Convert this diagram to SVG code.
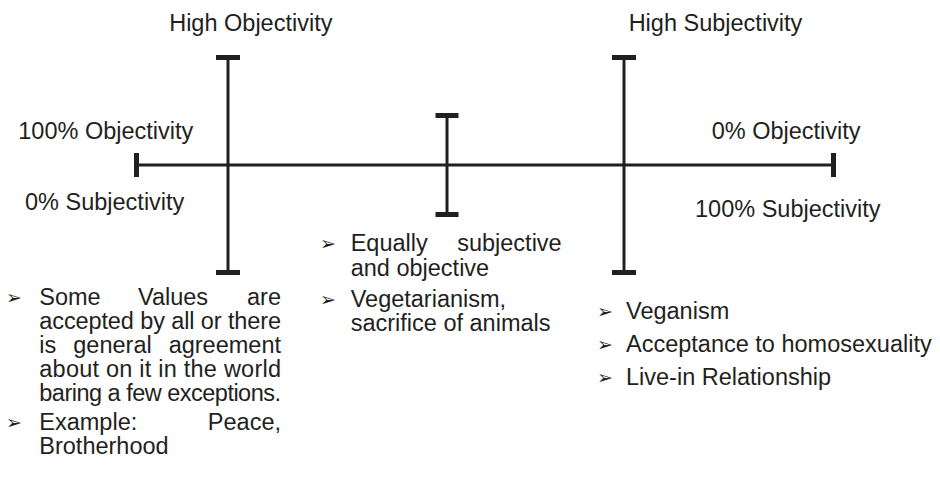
<svg xmlns="http://www.w3.org/2000/svg" width="940" height="493" viewBox="0 0 940 493">
<style>
.t{font-family:"Liberation Sans",Arial,Helvetica,sans-serif;font-size:23.5px;fill:#231f20}
.b{font-family:"DejaVu Sans",sans-serif;font-size:19px;fill:#231f20}
.ln{stroke:#231f20;stroke-width:3;fill:none}
.cap{fill:#231f20}
</style>
<rect width="940" height="493" fill="#ffffff"/>
<g id="connectors">
  <line class="ln" x1="136" y1="165" x2="833" y2="165"/>
  <rect class="cap" x="134" y="153" width="5" height="24"/>
  <rect class="cap" x="831" y="153" width="5" height="24"/>
  <line class="ln" x1="228" y1="57" x2="228" y2="273"/>
  <rect class="cap" x="216" y="55" width="24" height="5"/>
  <rect class="cap" x="216" y="270" width="24" height="5"/>
  <line class="ln" x1="447" y1="115" x2="447" y2="214"/>
  <rect class="cap" x="435.5" y="113" width="23" height="5"/>
  <rect class="cap" x="435.5" y="212" width="23" height="5"/>
  <line class="ln" x1="624" y1="57" x2="624" y2="273"/>
  <rect class="cap" x="612" y="55" width="24" height="5"/>
  <rect class="cap" x="612" y="270" width="24" height="5"/>
</g>
<g id="label-high-objectivity"><text class="t" x="250.8" y="31" text-anchor="middle">High Objectivity</text></g>
<g id="label-high-subjectivity"><text class="t" x="715.5" y="31" text-anchor="middle">High Subjectivity</text></g>
<g id="label-100-objectivity"><text class="t" x="18.3" y="139">100% Objectivity</text></g>
<g id="label-0-subjectivity"><text class="t" x="25" y="210">0% Subjectivity</text></g>
<g id="label-0-objectivity"><text class="t" x="711.7" y="139">0% Objectivity</text></g>
<g id="label-100-subjectivity"><text class="t" x="695" y="217">100% Subjectivity</text></g>
<g id="list-objective">
  <text class="b" x="6" y="304">➢</text>
  <text class="t" y="305"><tspan x="39.3">Some</tspan><tspan x="138">Values</tspan></text>
  <text class="t" x="281" y="305" text-anchor="end">are</text>
  <text class="t" x="39.3" y="329" textLength="241.7" lengthAdjust="spacing">accepted by all or there</text>
  <text class="t" y="353"><tspan x="39.3">is</tspan><tspan x="73.3">general</tspan></text>
  <text class="t" x="281" y="353" text-anchor="end">agreement</text>
  <text class="t" x="39.3" y="377" textLength="241.7" lengthAdjust="spacing">about on it in the world</text>
  <text class="t" x="39.3" y="401" textLength="241.7" lengthAdjust="spacing">baring a few exceptions.</text>
  <text class="b" x="6" y="429">➢</text>
  <text class="t" x="39.3" y="430">Example:</text>
  <text class="t" x="281" y="430" text-anchor="end">Peace,</text>
  <text class="t" x="39.3" y="454">Brotherhood</text>
</g>
<g id="list-equal">
  <text class="b" x="320" y="250">➢</text>
  <text class="t" x="350.7" y="251">Equally</text>
  <text class="t" x="561.7" y="251" text-anchor="end">subjective</text>
  <text class="t" x="350.7" y="276">and objective</text>
  <text class="b" x="320" y="306">➢</text>
  <text class="t" x="350.7" y="307">Vegetarianism,</text>
  <text class="t" x="350.7" y="331">sacrifice of animals</text>
</g>
<g id="list-subjective">
  <text class="b" x="597" y="318">➢</text>
  <text class="t" x="626" y="319">Veganism</text>
  <text class="b" x="597" y="351">➢</text>
  <text class="t" x="626" y="352">Acceptance to homosexuality</text>
  <text class="b" x="597" y="384">➢</text>
  <text class="t" x="626" y="385">Live-in Relationship</text>
</g>
</svg>
